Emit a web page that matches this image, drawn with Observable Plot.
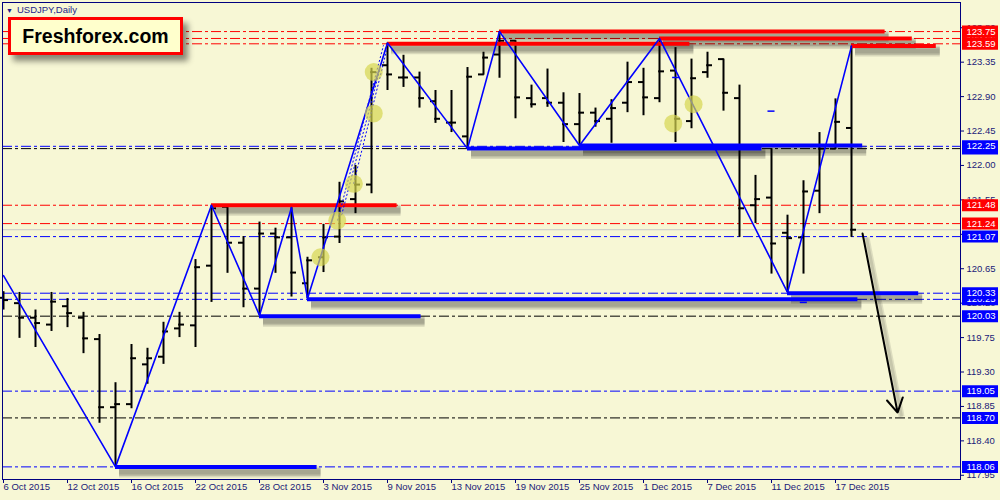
<!DOCTYPE html>
<html><head><meta charset="utf-8">
<script src="https://cdn.jsdelivr.net/npm/d3@7"></script>
<script src="https://cdn.jsdelivr.net/npm/@observablehq/plot@0.6"></script>
<style>
html,body{margin:0;padding:0;background:#F7F7D5;}
#wrap{position:relative;width:1000px;height:500px;overflow:hidden;}
#title{position:absolute;left:6px;top:4px;font:9.5px "Liberation Sans",Arial,sans-serif;color:#1c1c8c;white-space:nowrap;}
#title span{font-size:7px;margin-right:4px;}
#logo{position:absolute;left:8px;top:17px;width:169px;height:32px;border:3px solid #ff0000;background:#FFFFCC;box-shadow:5px 6px 6px rgba(0,0,0,0.45);font:bold 19.5px "Liberation Sans",Arial,sans-serif;color:#000;display:flex;align-items:center;justify-content:center;}
</style></head>
<body><div id="wrap"><div id="chart"></div><div id="title"><span>▼</span>USDJPY,Daily</div><div id="logo">Freshforex.com</div></div>
<script>
// ---- OHLC data (USDJPY daily, 6 Oct 2015 .. 18 Dec 2015), index = trading day ----
const open  = [120.27,120.20,120.01,119.92,120.16,120.01,119.73,118.84,118.88,119.40,119.50,119.87,119.91,120.69,121.46,120.99,120.39,121.11,121.06,120.46,120.80,121.07,121.56,121.75,123.31,123.15,123.15,122.84,122.56,122.38,123.19,123.45,123.63,122.88,122.88,122.82,122.54,122.69,122.61,122.82,123.09,122.88,123.24,122.58,123.22,123.39,122.88,121.48,121.58,121.12,121.06,121.67,122.22,122.49];
const high  = [120.35,120.34,120.11,120.34,120.26,120.08,119.79,119.16,119.66,119.61,119.95,120.08,120.77,121.48,121.46,121.07,121.26,121.18,121.45,120.80,121.23,121.78,122.00,123.27,123.60,123.44,123.22,122.98,122.98,123.28,123.48,123.75,123.63,123.05,123.26,122.95,122.94,122.75,122.86,123.35,123.27,123.66,123.54,123.39,123.48,123.39,123.05,121.87,122.22,121.35,121.80,122.43,122.87,123.56];
const low   = [120.11,119.74,119.62,119.83,119.88,119.54,118.63,118.06,118.82,119.14,119.40,119.75,119.62,120.21,120.59,120.14,120.04,120.59,120.28,120.26,120.60,120.98,121.37,121.63,122.98,123.02,122.75,122.55,122.43,122.22,123.18,123.14,122.61,122.75,122.76,122.30,122.26,122.50,122.29,122.69,122.65,122.82,122.30,122.48,123.14,122.71,121.06,121.24,120.58,120.34,120.58,121.37,122.21,121.06];
const close = [120.24,120.01,119.94,120.22,120.07,119.74,118.84,118.88,119.48,119.48,119.83,119.92,120.67,121.44,120.99,120.39,121.11,121.06,120.60,120.76,121.06,121.53,121.75,123.22,123.19,123.15,122.88,122.61,122.56,123.16,123.41,123.63,122.89,122.80,122.82,122.54,122.69,122.58,122.75,123.09,122.89,123.23,122.61,123.14,123.31,122.95,121.44,121.56,120.98,121.05,121.66,122.22,122.57,121.16];

// ---- axis ticks ----
const tickIdx    = [0,4,8,12,16,20,24,28,32,36,40,44,48,52];
const tickLabels = ["6 Oct 2015","12 Oct 2015","16 Oct 2015","22 Oct 2015","28 Oct 2015","3 Nov 2015","9 Nov 2015","13 Nov 2015","19 Nov 2015","25 Nov 2015","1 Dec 2015","7 Dec 2015","11 Dec 2015","17 Dec 2015"];
const yTicks = [123.80,123.35,122.90,122.45,122.00,121.55,121.10,120.65,120.20,119.75,119.30,118.85,118.40,117.95];

// ---- horizontal dash-dot levels ----
const redLevels   = [123.75,123.66,123.59,121.48,121.24];
const blueLevels  = [122.25,121.07,120.33,120.25,119.05,118.06];
const blackLevels = [122.22,120.03,118.70];
const bidLine = 121.16;

// ---- price tags on the right axis (draw order, later ones on top) ----
const tagPrices = [123.66,123.75,123.59,122.22,122.25,121.48,121.24,121.07,120.25,120.33,120.03,119.05,118.70,118.06];
const tagColors = ["#ff0000","#ff0000","#ff0000","#0000ff","#0000ff","#ff0000","#ff0000","#0000ff","#0000ff","#0000ff","#0000ff","#0000ff","#0000ff","#0000ff"];

// ---- thick support / resistance segments ----
const segStart = [13,24,31,41,53,7,16,19,29,36,49];
const segEnd   = [24.6,42.9,55.1,56.8,58.3,19.6,26.1,53.4,47.4,53.7,57.2];
const segPrice = [121.48,123.59,123.75,123.66,123.56,118.06,120.03,120.25,122.22,122.26,120.33];
const segColor = ["#ff0000","#ff0000","#ff0000","#ff0000","#ff0000","#0000ff","#0000ff","#0000ff","#0000ff","#0000ff","#0000ff"];

// ---- zigzag ----
const zzIdx   = [0,7,13,16,18,19,24,29,31,36,41,49,53];
const zzPrice = [120.56,118.06,121.48,120.04,121.45,120.26,123.60,122.22,123.75,122.26,123.66,120.34,123.56];

// ---- dotted fan lines ----
const fanX1 = [20.88,21.13,21.88], fanY1 = [121.28,121.35,121.76];
const fanX2 = [23.75,23.88,23.94], fanY2 = [123.57,123.54,123.50];

// ---- yellow signal circles ----
const circX = [19.81,20.86,21.90,23.14,23.14,41.86,43.13];
const circY = [120.80,121.28,121.76,123.22,122.68,122.55,122.80];

// ---- small blue marks ----
const markX = [42.04,48.0,50.02];
const markY = [123.15,122.71,120.21];

// ---- forecast arrow ----
const arrowFrom = {i: 53.69, p: 121.11};
const arrowTo   = {i: 55.88, p: 118.77};

// ---- build tables ----
const bars = open.map((o,i)=>({i, o, h: high[i], l: low[i], c: close[i]}));
const segs = segStart.map((s,k)=>({s, e: segEnd[k], p: segPrice[k], col: segColor[k]}));
const tags = tagPrices.map((p,k)=>({p, col: tagColors[k]}));
const zz = zzIdx.map((i,k)=>({i, p: zzPrice[k]}));
const fans = fanX1.map((x,k)=>({x1: x, y1: fanY1[k], x2: fanX2[k], y2: fanY2[k]}));
const circles = circX.map((x,k)=>({x, y: circY[k]}));
const marks = markX.map((x,k)=>({x, y: markY[k]}));
const xt = tickIdx.map((i,k)=>({i, label: tickLabels[k]}));
const arrows = [{x1: arrowFrom.i, y1: arrowFrom.p, x2: arrowTo.i, y2: arrowTo.p}];

const navy = "#000080", txt = "#1a1a78";
const TICK = 0.3125;
const dashDot = "10,3,3,3";

// soft drop shadows: stacked translucent strokes
const segShadows = [11, 8, 5].map(w =>
  Plot.ruleY(segs, {y: "p", x1: "s", x2: "e", stroke: "#000", strokeOpacity: 0.12, strokeWidth: w, dx: 4, dy: 5}));
const arrowShadows = [6, 3].map(w =>
  Plot.link(arrows, {x1: "x1", y1: "y1", x2: "x2", y2: "y2", stroke: "#000", strokeOpacity: 0.1, strokeWidth: w, dx: 4, dy: 4}));

const tagMarks = tags.flatMap(t => [
  Plot.ruleY([t], {y: "p", stroke: t.col, strokeWidth: 12, insetLeft: 960, insetRight: -38}),
  Plot.text([t], {y: "p", text: d => d.p.toFixed(2), frameAnchor: "right", dx: 6, textAnchor: "start", fill: "#ffffff", fontSize: 9.5})
]);

const chart = Plot.plot({
  width: 1000, height: 500,
  marginLeft: 2, marginRight: 40, marginTop: 2, marginBottom: 21,
  style: {background: "#F7F7D5", color: navy, fontFamily: "'Liberation Sans', Arial, sans-serif"},
  x: {domain: [-0.0625, 59.8125], axis: null},
  y: {domain: [117.895, 124.13], axis: null},
  color: {type: "identity"},
  marks: [
    Plot.ruleY(redLevels,   {stroke: "#ff0000", strokeDasharray: dashDot}),
    Plot.ruleY(blueLevels,  {stroke: "#0000ff", strokeDasharray: dashDot}),
    Plot.ruleY(blackLevels, {stroke: "#000000", strokeDasharray: dashDot}),
    Plot.ruleY([bidLine],   {stroke: "#c8c8c8"}),
    // OHLC bars
    Plot.ruleX(bars, {x: "i", y1: "l", y2: "h", stroke: "#000", strokeWidth: 2}),
    Plot.ruleY(bars, {y: "o", x1: d => d.i - TICK, x2: d => d.i + 0.05, stroke: "#000", strokeWidth: 2}),
    Plot.ruleY(bars, {y: "c", x1: d => d.i - 0.05, x2: d => d.i + TICK, stroke: "#000", strokeWidth: 2}),
    // shadows
    ...segShadows,
    ...arrowShadows,
    // thick segments
    Plot.ruleY(segs, {y: "p", x1: "s", x2: "e", stroke: "col", strokeWidth: 4}),
    // zigzag
    Plot.line(zz, {x: "i", y: "p", stroke: "#0000ff", strokeWidth: 1.6}),
    // dotted fans
    Plot.link(fans, {x1: "x1", y1: "y1", x2: "x2", y2: "y2", stroke: "#0000ff", strokeWidth: 1, strokeDasharray: "2,2"}),
    // circles
    Plot.dot(circles, {x: "x", y: "y", r: 9, fill: "#D6D650", fillOpacity: 0.7, stroke: "none"}),
    // small marks
    Plot.ruleY(marks, {y: "y", x1: d => d.x - 0.22, x2: d => d.x + 0.22, stroke: "#0000ff", strokeWidth: 1.5}),
    // arrow
    Plot.arrow(arrows, {x1: "x1", y1: "y1", x2: "x2", y2: "y2", stroke: "#000", strokeWidth: 2, headLength: 12}),
    // frame
    Plot.frame({stroke: navy}),
    // y axis ticks + labels
    Plot.ruleY(yTicks, {stroke: navy, insetLeft: 958, insetRight: -4}),
    Plot.text(yTicks, {y: d => d, text: d => d.toFixed(2), frameAnchor: "right", dx: 6, textAnchor: "start", fill: txt, fontSize: 9.5}),
    // price tags
    ...tagMarks,
    // x axis ticks + labels
    Plot.ruleX(tickIdx, {stroke: navy, insetTop: 477, insetBottom: -4}),
    Plot.text(xt, {x: "i", text: "label", frameAnchor: "bottom", dy: 10, textAnchor: "start", fill: txt, fontSize: 9.5})
  ]
});
document.getElementById("chart").appendChild(chart);
</script></body></html>
